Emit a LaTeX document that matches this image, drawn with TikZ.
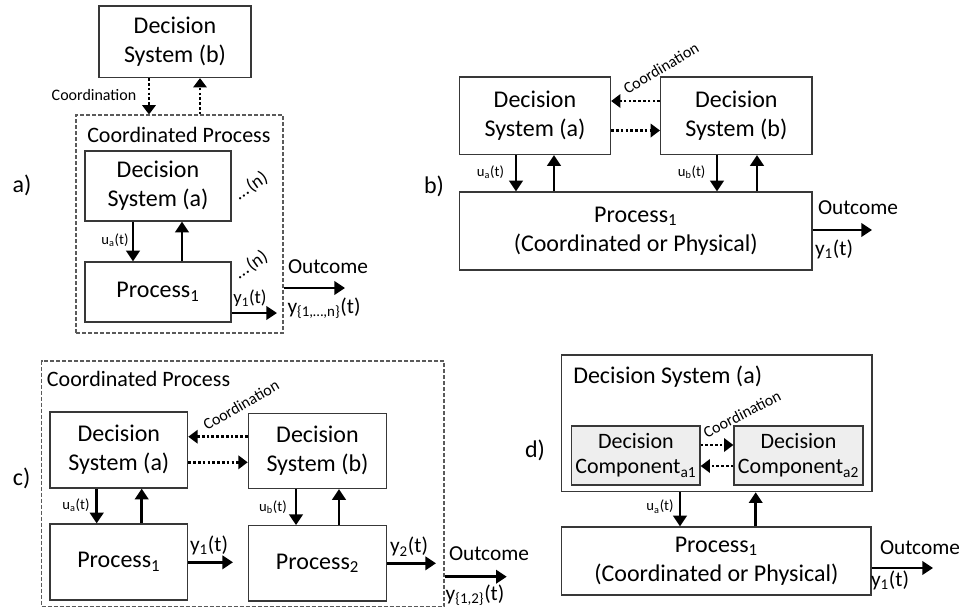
\documentclass[tikz,border=0pt]{standalone}
\usepackage{fontspec}
\setmainfont{Carlito}
\usetikzlibrary{arrows.meta}
\definecolor{boxline}{HTML}{383838}
\definecolor{frameline}{HTML}{5A5A5A}
\definecolor{compfill}{HTML}{EEEEEE}
\begin{document}
\begin{tikzpicture}[x=0.75pt,y=-0.75pt,
  wh/.style 2 args={minimum width=#1*0.75pt,minimum height=#2*0.75pt},
  box/.style={draw=boxline,line width=0.9pt,fill=white,align=center,inner sep=0pt},
  comp/.style={box,fill=compfill},
  cpframe/.style={draw=frameline,line width=0.8pt,dash pattern=on 3pt off 1.5pt,inner sep=0pt},
  lbl/.style={inner sep=0pt,align=center},
  f18/.style={font=\fontsize{18}{21.75}\selectfont},
  f17/.style={font=\fontsize{16.5}{19}\selectfont},
  f16/.style={font=\fontsize{16}{19}\selectfont},
  f14/.style={font=\fontsize{14}{17}\selectfont},
  f12/.style={font=\fontsize{12}{14}\selectfont},
  f11/.style={font=\fontsize{11}{13}\selectfont},
  arr/.style={line width=2.1pt,-{Triangle[length=8pt,width=10pt]}},
  darr/.style={line width=2.1pt,dash pattern=on 2pt off 1.6pt,-{Triangle[length=7pt,width=10pt]}},
]
\useasboundingbox (0,0) rectangle (959,608);

% ---------------- a) ----------------
\node[lbl,f18] (aTag) at (22,185) {a)};
\node[box,f18,wh={152}{71.5}] (aDSb) at (175,41.75) {Decision\\System (b)};
\node[cpframe,wh={207}{218}] (aCP) at (179.5,224) {};
\node[lbl,f17,anchor=west] (aCPt) at (87,135) {Coordinated Process};
\node[lbl,f12] (aCoord) at (94,95) {Coordination};
\draw[darr] (aDSb.south -| 149,0) -- (aCP.north -| 149,0);
\draw[darr] (aCP.north -| 200,0) -- (aDSb.south -| 200,0);
\node[box,f18,wh={146}{70}] (aDSa) at (158,186) {Decision\\System (a)};
\node[box,f18,wh={146}{60}] (aP) at (158,292) {Process\textsubscript{1}};
\node[lbl,f14,rotate=35] (aN1) at (251,186) {…\kern1.5pt(n)};
\node[lbl,f14,rotate=35] (aN2) at (251,265) {…\kern1.5pt(n)};
\draw[arr] (aDSa.south -| 133,0) -- (aP.north -| 133,0);
\draw[arr] (aP.north -| 182,0) -- (aDSa.south -| 182,0);
\node[lbl,f11] (aU) at (115,240) {u\textsubscript{a}(t)};
\node[lbl,f14] (aY) at (250,298) {y\textsubscript{1}(t)};
\coordinate (aYend) at (277,313);
\draw[arr] (aP.east |- aYend) -- (aYend);
\coordinate (aOut) at (345,288);
\draw[arr] (aCP.east |- aOut) -- (aOut);
\node[lbl,f16] (aOutT) at (328,267) {Outcome};
\node[lbl,f16] (aOutY) at (324,308) {y\textsubscript{\{1,…,n\}}(t)};

% ---------------- b) ----------------
\node[lbl,f18] (bTag) at (434,186) {b)};
\node[box,f18,wh={151}{77.5}] (bDSa) at (535,115.75) {Decision\\System (a)};
\node[box,f18,wh={151.4}{77.5}] (bDSb) at (736.3,115.75) {Decision\\System (b)};
\draw[darr] (bDSb.west |- 0,101) -- (bDSa.east |- 0,101);
\draw[darr] (bDSa.east |- 0,130.5) -- (bDSb.west |- 0,130.5);
\node[lbl,f12,rotate=31] (bCoord) at (661,68) {Coordination};
\node[box,f18,wh={352.5}{78}] (bP) at (635.75,231) {Process\textsubscript{1}\\(Coordinated or Physical)};
\draw[arr] (bDSa.south -| 516,0) -- (bP.north -| 516,0);
\draw[arr] (bP.north -| 554,0) -- (bDSa.south -| 554,0);
\draw[arr] (bDSb.south -| 717,0) -- (bP.north -| 717,0);
\draw[arr] (bP.north -| 757,0) -- (bDSb.south -| 757,0);
\node[lbl,f11] (bUa) at (490.5,172) {u\textsubscript{a}(t)};
\node[lbl,f11] (bUb) at (691.6,172) {u\textsubscript{b}(t)};
\coordinate (bOut) at (872,230);
\draw[arr] (bP.east |- bOut) -- (bOut);
\node[lbl,f16] (bOutT) at (858,208) {Outcome};
\node[lbl,f16] (bOutY) at (834,249) {y\textsubscript{1}(t)};

% ---------------- c) ----------------
\node[lbl,f18] (cTag) at (21.7,478) {c)};
\node[cpframe,wh={402.3}{245.7}] (cCP) at (242.85,483.85) {};
\node[lbl,f17,anchor=west] (cCPt) at (46.7,379) {Coordinated Process};
\node[box,f18,wh={137.7}{76}] (cDSa) at (118.85,450) {Decision\\System (a)};
\node[box,f18,wh={138.4}{75}] (cDSb) at (317.5,451) {Decision\\System (b)};
\draw[darr] (cDSb.west |- 0,436.7) -- (cDSa.east |- 0,436.7);
\draw[darr] (cDSa.east |- 0,462.3) -- (cDSb.west |- 0,462.3);
\node[lbl,f12,rotate=30] (cCoord) at (241,405) {Coordination};
\node[box,f18,wh={137.7}{76}] (cP1) at (118.85,562) {Process\textsubscript{1}};
\node[box,f18,wh={138.4}{75.3}] (cP2) at (317.5,563.35) {Process\textsubscript{2}};
\draw[arr] (cDSa.south -| 96.7,0) -- (cP1.north -| 96.7,0);
\draw[arr] (cP1.north -| 141.7,0) -- (cDSa.south -| 141.7,0);
\draw[arr] (cDSb.south -| 296,0) -- (cP2.north -| 296,0);
\draw[arr] (cP2.north -| 339,0) -- (cDSb.south -| 339,0);
\node[lbl,f11] (cUa) at (76,505) {u\textsubscript{a}(t)};
\node[lbl,f11] (cUb) at (273,507) {u\textsubscript{b}(t)};
\coordinate (cY1) at (233,562.3);
\draw[arr] (cP1.east |- cY1) -- (cY1);
\node[lbl,f16] (cY1t) at (209,545) {y\textsubscript{1}(t)};
\coordinate (cY2) at (436,563.3);
\draw[arr] (cP2.east |- cY2) -- (cY2);
\node[lbl,f16] (cY2t) at (409,546.7) {y\textsubscript{2}(t)};
\coordinate (cOut) at (506.7,576.7);
\draw[arr] (cCP.east |- cOut) -- (cOut);
\node[lbl,f16] (cOutT) at (489,554) {Outcome};
\node[lbl,f16] (cOutY) at (475,595) {y\textsubscript{\{1,2\}}(t)};

% ---------------- d) ----------------
\node[lbl,f18] (dTag) at (535,450) {d)};
\node[box,wh={310.3}{136.7}] (dDS) at (716.85,423.35) {};
\node[lbl,f18,anchor=west] (dDSt) at (573,377) {Decision System (a)};
\node[comp,f17,wh={128.3}{59}] (dC1) at (635.85,455.5) {Decision\\Component\textsubscript{a1}};
\node[comp,f17,wh={129}{59}] (dC2) at (798.5,455.5) {Decision\\Component\textsubscript{a2}};
\draw[darr] (dC1.east |- 0,445) -- (dC2.west |- 0,445);
\draw[darr] (dC2.west |- 0,466) -- (dC1.east |- 0,466);
\node[lbl,f12,rotate=27] (dCoord) at (742,414) {Coordination};
\node[box,f18,wh={309.3}{68}] (dP) at (716.35,561) {Process\textsubscript{1}\\(Coordinated or Physical)};
\draw[arr] (dDS.south -| 680,0) -- (dP.north -| 680,0);
\draw[arr] (dP.north -| 755.7,0) -- (dDS.south -| 755.7,0);
\node[lbl,f11] (dU) at (660,506.7) {u\textsubscript{a}(t)};
\coordinate (dOut) at (933,568);
\draw[arr] (dP.east |- dOut) -- (dOut);
\node[lbl,f16] (dOutT) at (920,548) {Outcome};
\node[lbl,f16] (dOutY) at (890,580) {y\textsubscript{1}(t)};
\end{tikzpicture}
\end{document}
